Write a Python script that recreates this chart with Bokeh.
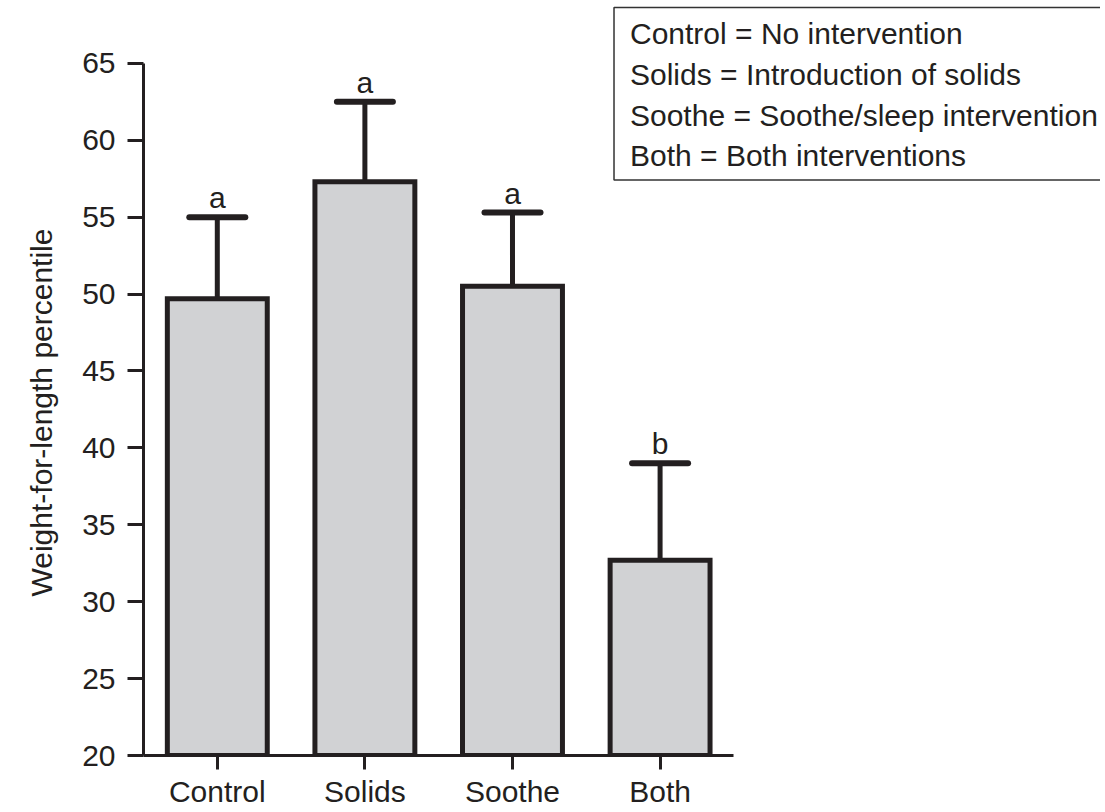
from bokeh.plotting import figure
from bokeh.models import (ColumnDataSource, Range1d, FixedTicker,
                          Whisker, TeeHead, Title)
from bokeh.core.properties import value
from bokeh.embed import file_html
from bokeh.resources import INLINE

# ---- data ----
groups = ["Control", "Solids", "Soothe", "Both"]
means = [49.7, 57.3, 50.5, 32.7]
upper = [55.0, 62.5, 55.3, 39.0]
letters = ["a", "a", "a", "b"]
y_ticks = [20, 25, 30, 35, 40, 45, 50, 55, 60, 65]
y_label = "Weight-for-length percentile"
legend_lines = [
    "Control = No intervention",
    "Solids = Introduction of solids",
    "Soothe = Soothe/sleep intervention",
    "Both = Both interventions",
]

INK = "#231f20"
FILL = "#d1d2d4"
FONT = "Liberation Sans"
FS = "30px"

# ---- layout (screen pixels) ----
W, H = 1100, 810
LEFT, TOP65, BOTTOM, AXIS_RIGHT = 142, 63, 757, 733
Y0, Y1 = y_ticks[0], y_ticks[-1]
n = len(groups)
px_per_y = (BOTTOM - TOP65) / (Y1 - Y0)
px_per_x = (AXIS_RIGHT - LEFT) / n


def sx(px):  # screen x -> data x
    return (px - LEFT) / px_per_x


def sy(py):  # screen y -> data y
    return Y1 - (py - TOP65) / px_per_y


xs = [i + 0.5 for i in range(n)]
src = ColumnDataSource(dict(x=xs, m=means, u=upper, lt=letters))

p = figure(x_range=Range1d(0, sx(W)), y_range=Range1d(Y0, sy(0)),
           width=W, height=H,
           min_border_left=LEFT, min_border_top=0,
           min_border_right=0, min_border_bottom=H - BOTTOM,
           output_backend="svg", toolbar_location=None)

p.vbar(x="x", top="m", bottom=Y0, width=0.677, source=src,
       fill_color=FILL, line_color=INK, line_width=5, line_join="miter")

wh = Whisker(base="x", upper="u", lower="m", source=src,
             line_color=INK, line_width=5,
             upper_head=TeeHead(size=56, line_color=INK, line_width=6, line_cap="round"),
             lower_head=None)
p.add_layout(wh)

p.text(x="x", y="u", text="lt", source=src, text_align="center",
       text_baseline="bottom", y_offset=-3, text_font=value(FONT),
       text_font_size=FS, text_color=INK)

# legend box with explanatory text
p.quad(left=[sx(613)], right=[sx(W + 20)], top=[sy(7)], bottom=[sy(180)],
       fill_color="white", line_color="#333333", line_width=1.5)
leg_y = [sy(33), sy(74), sy(115), sy(155)]
p.text(x=[sx(629)] * len(legend_lines), y=leg_y, text=legend_lines,
       text_align="left", text_baseline="middle", text_font=value(FONT),
       text_font_size=FS, text_color=INK)

p.grid.visible = False
p.outline_line_color = None
p.background_fill_color = "white"
p.border_fill_color = "white"

ya = p.yaxis[0]
ya.bounds = (Y0, Y1)
ya.ticker = FixedTicker(ticks=y_ticks)
ya.minor_tick_line_color = None
ya.major_tick_in = 0
ya.major_tick_out = 16
ya.axis_line_width = 3
ya.major_tick_line_width = 3
ya.axis_line_color = INK
ya.major_tick_line_color = INK
ya.major_label_text_font = FONT
ya.major_label_text_font_size = FS
ya.major_label_text_color = INK
ya.major_label_standoff = 12

# y-axis title as a side title; starts ~598px down so it centres beside the 65..20 line
ytitle = Title(text=y_label, align="left", offset=BOTTOM - 598,
               standoff=44, text_font=FONT, text_font_size=FS,
               text_font_style="normal", text_color=INK)
p.add_layout(ytitle, "left")

xa = p.xaxis[0]
xa.bounds = (0, n)
xa.ticker = FixedTicker(ticks=xs)
xa.major_label_overrides = {x: g for x, g in zip(xs, groups)}
xa.minor_tick_line_color = None
xa.major_tick_in = 0
xa.major_tick_out = 14
xa.axis_line_width = 3
xa.major_tick_line_width = 3
xa.axis_line_color = INK
xa.major_tick_line_color = INK
xa.major_label_text_font = FONT
xa.major_label_text_font_size = FS
xa.major_label_text_color = INK
xa.major_label_standoff = 5

open("out.html", "w").write(file_html(p, INLINE))
